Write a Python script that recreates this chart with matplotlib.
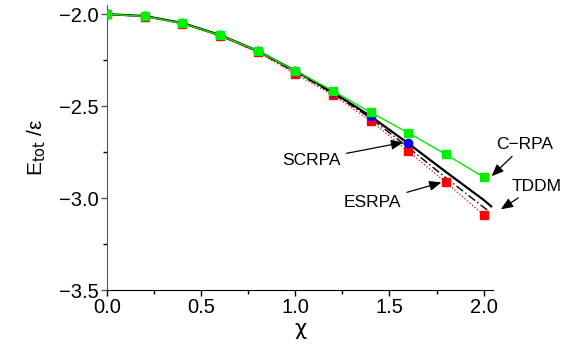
import matplotlib
matplotlib.use("Agg")
import matplotlib.pyplot as plt
from matplotlib.ticker import MultipleLocator

plt.rcParams['font.family'] = ['Liberation Sans', 'DejaVu Sans']

x = [0.0, 0.2, 0.4, 0.6, 0.8, 1.0, 1.2, 1.4, 1.6, 1.8, 2.0]
crpa = [-2.0, -2.012, -2.05, -2.115, -2.2, -2.308, -2.417, -2.534, -2.645, -2.763, -2.886]
esrpa = [-2.0, -2.014, -2.053, -2.12, -2.206, -2.326, -2.44, -2.58, -2.745, -2.915, -3.092]
x_sc = [0.0, 0.2, 0.4, 0.6, 0.8, 1.0, 1.2, 1.4, 1.6]
scrpa = [-2.0, -2.012, -2.05, -2.116, -2.202, -2.31, -2.422, -2.556, -2.703]
x_tddm = [0.0, 0.2, 0.4, 0.6, 0.8, 1.0, 1.2, 1.4, 1.6, 1.8, 2.0, 2.04]
tddm = [-2.0, -2.01, -2.048, -2.113, -2.2, -2.308, -2.425, -2.555, -2.703, -2.858, -3.01, -3.045]
x_dd = [0.0, 0.2, 0.4, 0.6, 0.8, 1.0, 1.2, 1.4, 1.6, 1.8, 2.0, 2.02]
dashdot = [-2.0, -2.012, -2.05, -2.117, -2.204, -2.315, -2.432, -2.565, -2.725, -2.89, -3.05, -3.065]

fig = plt.figure(figsize=(5.72, 3.55), dpi=100)
ax = fig.add_axes([0.187, 0.183, 0.675, 0.803])

ax.plot(x_tddm, tddm, color='black', lw=1.6, zorder=2)
ax.plot(x_dd, dashdot, color='black', lw=1.0, ls=(0, (6, 2, 1, 2)), zorder=2)
ax.plot(x, esrpa, color='red', lw=0.9, ls=':', marker='s', ms=5.5, mec='red', mfc='red', zorder=3)
ax.plot(x_sc, scrpa, color='blue', lw=0, marker='o', ms=6, mec='blue', mfc='blue', zorder=4)
ax.plot(x, crpa, color='#00ee00', lw=1.0, marker='s', ms=6, mec='#00ee00', mfc='#00ee00', zorder=5)

ax.set_xlim(0, 2.05)
ax.set_ylim(-3.5, -1.95)
ax.xaxis.set_major_locator(MultipleLocator(0.5))
ax.xaxis.set_minor_locator(MultipleLocator(0.25))
ax.yaxis.set_major_locator(MultipleLocator(0.5))
ax.yaxis.set_minor_locator(MultipleLocator(0.25))
ax.tick_params(which='major', direction='out', length=4, labelsize=14.5, width=1, pad=2)
ax.tick_params(which='minor', direction='out', length=3, width=1)
ax.tick_params(axis='y', colors='#555555', labelcolor='black')
for s in ['top', 'right']:
    ax.spines[s].set_visible(False)
ax.spines['left'].set_color('#555555')
ax.spines['bottom'].set_color('black')

ax.set_xlabel('χ', fontsize=15, labelpad=1, family=['DejaVu Sans'])
ax.set_ylabel(r'E$_{\rm tot}$ /ε', fontsize=15, labelpad=8)

ap = dict(arrowstyle='-|>,head_length=0.6,head_width=0.25', color='black', lw=0.9,
          mutation_scale=12, shrinkA=2, shrinkB=1)
ax.annotate('SCRPA', xy=(1.58, -2.696), xytext=(1.088, -2.793), ha='center', va='center',
            fontsize=12.5, arrowprops=ap, annotation_clip=False)
ax.annotate('ESRPA', xy=(1.783, -2.913), xytext=(1.411, -3.022), ha='center', va='center',
            fontsize=12.5, arrowprops=ap, annotation_clip=False)
ax.annotate('C\u2212RPA', xy=(2.037, -2.886), xytext=(2.218, -2.707), ha='center', va='center',
            fontsize=12.5, arrowprops=ap, annotation_clip=False)
ax.annotate('TDDM', xy=(2.085, -3.065), xytext=(2.281, -2.935), ha='center', va='center',
            fontsize=12.5, arrowprops=ap, annotation_clip=False)

fig.savefig('out.png', dpi=100)
